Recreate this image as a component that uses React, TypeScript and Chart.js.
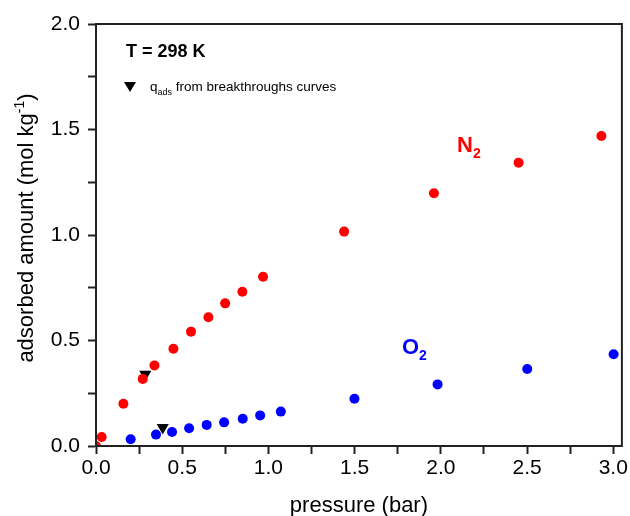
import React, { useEffect, useRef } from "react";
import { Chart, registerables } from "chart.js";

Chart.register(...registerables);

const n2Pressure = [0.0, 0.033, 0.159, 0.271, 0.339, 0.449, 0.551, 0.652, 0.749, 0.849, 0.969, 1.439, 1.96, 2.451, 2.931];
const n2Amount = [0.0, 0.043, 0.2, 0.318, 0.382, 0.461, 0.542, 0.61, 0.676, 0.731, 0.802, 1.016, 1.198, 1.343, 1.469];
const o2Pressure = [0.201, 0.348, 0.441, 0.54, 0.642, 0.743, 0.851, 0.952, 1.072, 1.499, 1.981, 2.501, 3.002];
const o2Amount = [0.032, 0.054, 0.066, 0.084, 0.1, 0.112, 0.129, 0.145, 0.163, 0.224, 0.292, 0.365, 0.435];
const btPressure = [0.286, 0.387];
const btAmount = [0.34, 0.088];

const FONT = '"Liberation Sans", Arial, sans-serif';
const AXIS_COLOR = "#222222";

const toPoints = (xs: number[], ys: number[]) => xs.map((x, i) => ({ x, y: ys[i] }));

const halfLabel = (v: number | string) => {
  const n = Number(v);
  return Math.abs(n * 2 - Math.round(n * 2)) < 1e-6 ? n.toFixed(1) : "";
};

const annotations = {
  id: "annotations",
  afterDatasetsDraw(chart: any) {
    const { ctx, chartArea } = chart;
    ctx.save();
    // frame
    ctx.strokeStyle = AXIS_COLOR;
    ctx.lineWidth = 2;
    ctx.strokeRect(chartArea.left, chartArea.top, chartArea.right - chartArea.left, chartArea.bottom - chartArea.top);

    ctx.fillStyle = "#000";
    ctx.textBaseline = "alphabetic";
    ctx.textAlign = "left";
    // T = 298 K
    ctx.font = `bold 18px ${FONT}`;
    ctx.fillText("T = 298 K", 126, 57);

    // legend triangle
    ctx.beginPath();
    ctx.moveTo(124, 82);
    ctx.lineTo(136, 82);
    ctx.lineTo(130, 92);
    ctx.closePath();
    ctx.fill();
    ctx.font = `13.5px ${FONT}`;
    ctx.fillText("q", 150, 91);
    const qw = ctx.measureText("q").width;
    ctx.font = `9px ${FONT}`;
    ctx.fillText("ads", 150 + qw, 95);
    const aw = ctx.measureText("ads").width;
    ctx.font = `13.5px ${FONT}`;
    ctx.fillText(" from breakthroughs curves", 150 + qw + aw, 91);

    // N2 label
    ctx.fillStyle = "#ff0000";
    ctx.font = `bold 22px ${FONT}`;
    ctx.fillText("N", 457, 152);
    let w = ctx.measureText("N").width;
    ctx.font = `bold 14px ${FONT}`;
    ctx.fillText("2", 457 + w, 158);

    // O2 label
    ctx.fillStyle = "#0000ff";
    ctx.font = `bold 22px ${FONT}`;
    ctx.fillText("O", 402, 354);
    w = ctx.measureText("O").width;
    ctx.font = `bold 14px ${FONT}`;
    ctx.fillText("2", 402 + w, 360);

    // axis titles
    ctx.fillStyle = "#000";
    ctx.font = `22px ${FONT}`;
    ctx.textAlign = "center";
    ctx.fillText("pressure (bar)", (chartArea.left + chartArea.right) / 2, 512);

    ctx.textAlign = "left";
    ctx.translate(33, 228);
    ctx.rotate(-Math.PI / 2);
    const main = "adsorbed amount (mol kg";
    const sup = "-1";
    const tail = ")";
    ctx.font = `22px ${FONT}`;
    const mw = ctx.measureText(main).width;
    const tw = ctx.measureText(tail).width;
    ctx.font = `14px ${FONT}`;
    const sw = ctx.measureText(sup).width;
    const total = mw + sw + tw;
    let x0 = -total / 2;
    ctx.font = `22px ${FONT}`;
    ctx.fillText(main, x0, 0);
    x0 += mw;
    ctx.font = `14px ${FONT}`;
    ctx.fillText(sup, x0, -9);
    x0 += sw;
    ctx.font = `22px ${FONT}`;
    ctx.fillText(tail, x0, 0);
    ctx.restore();
  },
};

export default function App() {
  const ref = useRef<HTMLCanvasElement | null>(null);

  useEffect(() => {
    if (!ref.current) return;
    const chart = new Chart(ref.current, {
      type: "scatter",
      data: {
        datasets: [
          {
            label: "N2",
            data: toPoints(n2Pressure, n2Amount),
            backgroundColor: "#ff0000",
            borderWidth: 0,
            pointRadius: 5,
            pointHoverRadius: 5,
            order: 1,
            clip: 0,
          },
          {
            label: "O2",
            data: toPoints(o2Pressure, o2Amount),
            backgroundColor: "#0000ff",
            borderWidth: 0,
            pointRadius: 5,
            pointHoverRadius: 5,
            order: 1,
          },
          {
            label: "breakthrough",
            data: toPoints(btPressure, btAmount),
            backgroundColor: "#000000",
            borderWidth: 0,
            pointStyle: "triangle",
            pointRotation: 180,
            pointRadius: 7,
            pointHoverRadius: 7,
            order: 3,
          },
        ],
      },
      options: {
        responsive: false,
        animation: false,
        events: [],
        layout: { padding: { left: 0, top: 24, right: 8, bottom: 0 } },
        plugins: {
          legend: { display: false },
          tooltip: { enabled: false },
          title: { display: false },
        },
        scales: {
          x: {
            type: "linear",
            min: 0,
            max: 3.05,
            afterFit: (s: any) => {
              s.height = 70;
            },
            ticks: {
              stepSize: 0.25,
              includeBounds: false,
              autoSkip: false,
              maxRotation: 0,
              padding: 2,
              color: "#000",
              font: { family: FONT, size: 21 },
              callback: (v: any) => halfLabel(v),
            },
            grid: {
              drawOnChartArea: false,
              drawTicks: true,
              tickLength: 8,
              tickWidth: 2,
              tickColor: AXIS_COLOR,
            },
            border: { display: true, color: AXIS_COLOR, width: 2 },
          },
          y: {
            type: "linear",
            min: 0,
            max: 2.0,
            afterFit: (s: any) => {
              s.width = 96;
            },
            ticks: {
              stepSize: 0.25,
              includeBounds: false,
              autoSkip: false,
              padding: 8,
              color: "#000",
              font: { family: FONT, size: 21 },
              callback: (v: any) => halfLabel(v),
            },
            grid: {
              drawOnChartArea: false,
              drawTicks: true,
              tickLength: 8,
              tickWidth: 2,
              tickColor: AXIS_COLOR,
            },
            border: { display: true, color: AXIS_COLOR, width: 2 },
          },
        },
      },
      plugins: [annotations],
    });
    return () => chart.destroy();
  }, []);

  return (
    <div style={{ position: "absolute", left: 0, top: 0, width: 630, height: 516, background: "#fff" }}>
      <canvas ref={ref} width={630} height={516} />
    </div>
  );
}
